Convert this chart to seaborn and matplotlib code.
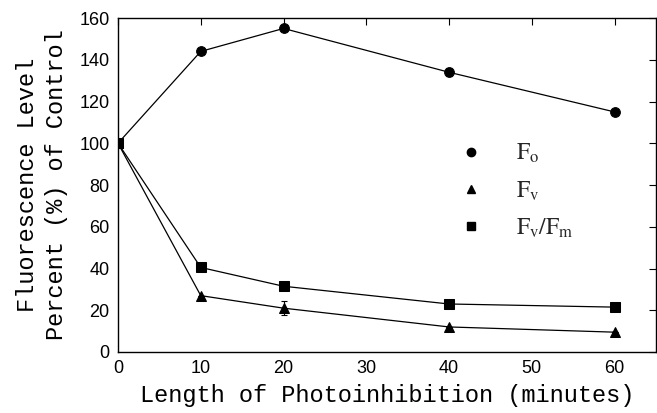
import matplotlib
matplotlib.use("Agg")
import matplotlib.pyplot as plt
import seaborn as sns
import pandas as pd
from matplotlib.lines import Line2D

minutes = [0, 10, 20, 40, 60]
fo = [100, 144, 155, 134, 115]
fv = [100, 27, 21, 12, 9.5]
fvfm = [100, 40.5, 31.5, 23, 21.5]
fo_err = [0, 0, 0, 2, 0]
fv_err = [0, 0, 3.5, 0, 0]
fvfm_err = [0, 0, 0, 0, 2]
series_names = ["Fo", "Fv", "Fv/Fm"]
legend_labels = [r"$\mathrm{F_o}$", r"$\mathrm{F_v}$", r"$\mathrm{F_v/F_m}$"]
xticks = [0, 10, 20, 30, 40, 50, 60]
yticks = [0, 20, 40, 60, 80, 100, 120, 140, 160]

sns.set_theme(style="white")
plt.rcParams["mathtext.fontset"] = "stix"

rows = []
for name, vals in zip(series_names, [fo, fv, fvfm]):
    for m, v in zip(minutes, vals):
        rows.append({"series": name, "minutes": m, "value": v})
df = pd.DataFrame(rows)

fig = plt.figure(figsize=(6.57, 4.13), dpi=100)
ax = fig.add_axes([0.1796, 0.1477, 0.8189, 0.8087])

markers = {"Fo": "o", "Fv": "^", "Fv/Fm": "s"}
sns.lineplot(data=df, x="minutes", y="value", hue="series", style="series",
             palette={n: "black" for n in series_names}, markers=markers,
             dashes=False, linewidth=0.9, markersize=7, markeredgecolor="black",
             legend=False, ax=ax)

for vals, errs in zip([fo, fv, fvfm], [fo_err, fv_err, fvfm_err]):
    ax.errorbar(minutes, vals, yerr=errs, fmt="none", ecolor="black",
                elinewidth=0.8, capsize=2.5, capthick=0.8)

ax.set_xlim(0, 65)
ax.set_ylim(0, 160)
ax.set_xticks(xticks)
ax.set_yticks(yticks)
ax.tick_params(direction="in", top=True, right=True, length=5, width=0.8,
               labelsize=13, colors="black", pad=6)
for lbl in ax.get_xticklabels() + ax.get_yticklabels():
    lbl.set_family("Liberation Sans")
for s in ax.spines.values():
    s.set_color("black")
    s.set_linewidth(1.0)

ax.set_xlabel("Length of Photoinhibition (minutes)", family="Liberation Mono",
              fontsize=17, color="black", labelpad=5)
ax.set_ylabel("Fluorescence Level\nPercent (%) of Control", family="Liberation Mono",
              fontsize=17, color="black", labelpad=8, linespacing=1.35)

handles = [Line2D([], [], color="black", marker=markers[n], linestyle="none",
                  markersize=6) for n in series_names]
ax.legend(handles, legend_labels, loc="upper left", bbox_to_anchor=(0.595, 0.695),
          frameon=False, fontsize=17, handletextpad=1.4, labelspacing=0.55,
          handlelength=1.0)

fig.savefig("out.png", dpi=100)
